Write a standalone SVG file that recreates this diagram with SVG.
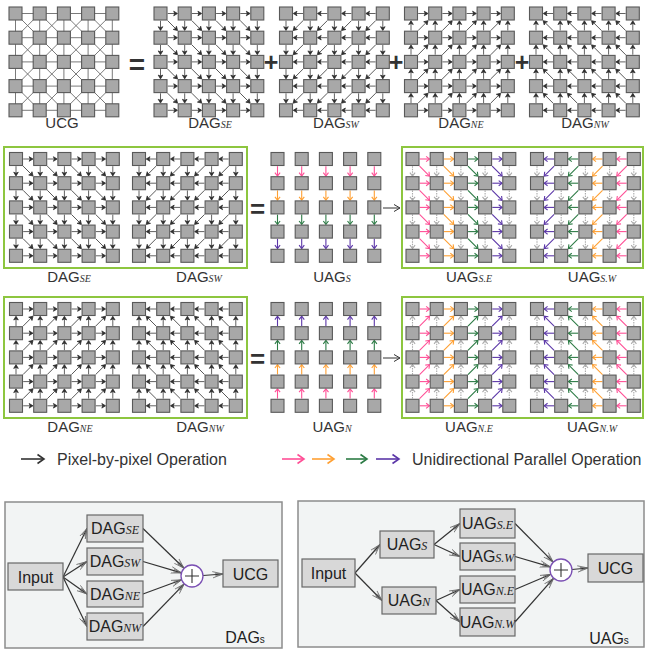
<svg xmlns="http://www.w3.org/2000/svg" width="654" height="657" viewBox="0 0 654 657">
<style>
.sq{fill:#a8a8a8;stroke:#595959;stroke-width:1.1}
.ucg{fill:none;stroke:#6b6b6b;stroke-width:0.9}
.bk{stroke:#2e2e2e;fill:#2e2e2e;stroke-width:0.75}
.cw{stroke-width:1.1;fill:none}
.gry{stroke:#ababab}
.gbox{fill:none;stroke:#8dc63f;stroke-width:2}
.lbl{font-family:"Liberation Sans",Arial,sans-serif;font-size:15px;fill:#333;text-anchor:middle}
.sub{font-family:"Liberation Serif","Times New Roman",serif;font-style:italic;font-size:10px}
.sym{font-family:"Liberation Sans",Arial,sans-serif;font-weight:bold;fill:#333;text-anchor:middle}
.frame{fill:#f2f4f4;stroke:#8c8c8c;stroke-width:1.5}
.nb{fill:#d8d8d8;stroke:#686868;stroke-width:1.2}
.nt{font-family:"Liberation Sans",Arial,sans-serif;font-size:16px;fill:#222;text-anchor:middle}
.nsub{font-family:"Liberation Serif","Times New Roman",serif;font-style:italic;font-size:12px}
.con{fill:none;stroke:#333;stroke-width:1.2;marker-end:url(#ah)}
.sum{fill:#fff;stroke:#7a4fb3;stroke-width:1.3}
.sumx{stroke:#333;stroke-width:1.1}
.leg{font-family:"Liberation Sans",Arial,sans-serif;font-size:16px;fill:#333}
.la{fill:none;stroke-width:1.6}
</style>
<defs>
<marker id="ah" markerWidth="11" markerHeight="8" viewBox="0 0 11 8" refX="10.5" refY="4" orient="auto" markerUnits="userSpaceOnUse"><path d="M0,0.8 L10.5,4 L0,7.2 M2.5,2.6 L10.5,4 L2.5,5.4" fill="none" stroke="#666" stroke-width="0.8"/></marker>
<rect id="sq" class="sq" x="-6.5" y="-6.5" width="13" height="13"/>
<g id="sqRow"><use href="#sq"/><use href="#sq" x="24.2"/><use href="#sq" x="48.4"/><use href="#sq" x="72.6"/><use href="#sq" x="96.8"/></g>
<g id="nodes"><use href="#sqRow"/><use href="#sqRow" y="24.2"/><use href="#sqRow" y="48.4"/><use href="#sqRow" y="72.6"/><use href="#sqRow" y="96.8"/></g>
<path id="ucgL" class="ucg" d="M0,0H96.8M0,24.2H96.8M0,48.4H96.8M0,72.6H96.8M0,96.8H96.8M0,0V96.8M24.2,0V96.8M48.4,0V96.8M72.6,0V96.8M96.8,0V96.8M0,0L96.8,96.8M24.2,0L96.8,72.6M48.4,0L96.8,48.4M72.6,0L96.8,24.2M0,24.2L72.6,96.8M0,48.4L48.4,96.8M0,72.6L24.2,96.8M24.2,0L0,24.2M48.4,0L0,48.4M72.6,0L0,72.6M96.8,0L0,96.8M96.8,24.2L24.2,96.8M96.8,48.4L48.4,96.8M96.8,72.6L72.6,96.8"/>
<path id="hdB" d="M0,0 L-3.8,-2.3 L-2.8,0 L-3.8,2.3 Z"/>
<polyline id="hdC" points="-3.4,-2.6 0,0 -3.4,2.6" fill="none"/>
<g id="hB"><line x1="7.2" y1="0" x2="16" y2="0"/><use href="#hdB" x="17"/></g>
<g id="vB"><use href="#hB" transform="rotate(90)"/></g>
<g id="dB"><g transform="rotate(45)"><line x1="10" y1="0" x2="23" y2="0"/><use href="#hdB" x="24.1"/></g></g>
<g id="hC" class="cw"><line x1="7.2" y1="0" x2="16.8" y2="0"/><use href="#hdC" x="17"/></g>
<g id="vC"><use href="#hC" transform="rotate(90)"/></g>
<g id="dC" class="cw"><g transform="rotate(45)"><line x1="10" y1="0" x2="23.8" y2="0"/><use href="#hdC" x="24.1"/></g></g>
<g id="vG" class="cw"><g transform="rotate(90)"><line x1="7.2" y1="0" x2="16.8" y2="0" stroke-dasharray="1.5 1"/><use href="#hdC" x="17"/></g></g>
<g id="hRowB"><use href="#hB"/><use href="#hB" x="24.2"/><use href="#hB" x="48.4"/><use href="#hB" x="72.6"/></g>
<g id="vRowB"><use href="#vB"/><use href="#vB" x="24.2"/><use href="#vB" x="48.4"/><use href="#vB" x="72.6"/><use href="#vB" x="96.8"/></g>
<g id="dRowB"><use href="#dB"/><use href="#dB" x="24.2"/><use href="#dB" x="48.4"/><use href="#dB" x="72.6"/></g>
<g id="dagSE">
<g class="bk">
<use href="#hRowB"/><use href="#hRowB" y="24.2"/><use href="#hRowB" y="48.4"/><use href="#hRowB" y="72.6"/><use href="#hRowB" y="96.8"/>
<use href="#vRowB"/><use href="#vRowB" y="24.2"/><use href="#vRowB" y="48.4"/><use href="#vRowB" y="72.6"/>
<use href="#dRowB"/><use href="#dRowB" y="24.2"/><use href="#dRowB" y="48.4"/><use href="#dRowB" y="72.6"/>
</g>
<use href="#nodes"/>
</g>
<g id="hRowC"><use href="#hC" stroke="#ff4f96"/><use href="#hC" x="24.2" stroke="#ffa033"/><use href="#hC" x="48.4" stroke="#2c7b45"/><use href="#hC" x="72.6" stroke="#5b36a8"/></g>
<g id="dRowC"><use href="#dC" stroke="#ff4f96"/><use href="#dC" x="24.2" stroke="#ffa033"/><use href="#dC" x="48.4" stroke="#2c7b45"/><use href="#dC" x="72.6" stroke="#5b36a8"/></g>
<g id="vRowG"><use href="#vG"/><use href="#vG" x="24.2"/><use href="#vG" x="48.4"/><use href="#vG" x="72.6"/><use href="#vG" x="96.8"/></g>
<g id="vRowC"><use href="#vC"/><use href="#vC" x="24.2"/><use href="#vC" x="48.4"/><use href="#vC" x="72.6"/><use href="#vC" x="96.8"/></g>
<g id="uagSE">
<g class="gry"><use href="#vRowG"/><use href="#vRowG" y="24.2"/><use href="#vRowG" y="48.4"/><use href="#vRowG" y="72.6"/></g>
<use href="#hRowC"/><use href="#hRowC" y="24.2"/><use href="#hRowC" y="48.4"/><use href="#hRowC" y="72.6"/><use href="#hRowC" y="96.8"/>
<use href="#dRowC"/><use href="#dRowC" y="24.2"/><use href="#dRowC" y="48.4"/><use href="#dRowC" y="72.6"/>
<use href="#nodes"/>
</g>
<g id="uagS">
<use href="#vRowC" stroke="#ff4f96"/><use href="#vRowC" y="24.2" stroke="#ffa033"/><use href="#vRowC" y="48.4" stroke="#2c7b45"/><use href="#vRowC" y="72.6" stroke="#5b36a8"/>
<use href="#nodes"/>
</g>
</defs>

<g id="row1">
<g id="grid-ucg" transform="translate(15.5,13.5)"><use href="#ucgL"/><use href="#nodes"/></g>
<g id="grid-dag-se-1" transform="translate(160.5,13.5)"><use href="#dagSE"/></g>
<g id="grid-dag-sw-1" transform="translate(382.8,13.5) scale(-1,1)"><use href="#dagSE"/></g>
<g id="grid-dag-ne-1" transform="translate(411,110.3) scale(1,-1)"><use href="#dagSE"/></g>
<g id="grid-dag-nw-1" transform="translate(632.8,110.3) scale(-1,-1)"><use href="#dagSE"/></g>
<text class="sym" x="137" y="73.5" font-size="28">=</text>
<text class="sym" x="271" y="70.5" font-size="25">+</text>
<text class="sym" x="396" y="70.5" font-size="25">+</text>
<text class="sym" x="522" y="70.5" font-size="25">+</text>
<text class="lbl" x="62" y="128">UCG</text>
<text class="lbl" x="210" y="128">DAG<tspan class="sub">SE</tspan></text>
<text class="lbl" x="336" y="128">DAG<tspan class="sub">SW</tspan></text>
<text class="lbl" x="461" y="128">DAG<tspan class="sub">NE</tspan></text>
<text class="lbl" x="585" y="128">DAG<tspan class="sub">NW</tspan></text>
</g>

<g id="row2">
<rect class="gbox" x="4" y="147" width="243" height="121"/>
<rect class="gbox" x="402" y="147" width="241" height="121"/>
<g id="grid-dag-se-2" transform="translate(16,159)"><use href="#dagSE"/></g>
<g id="grid-dag-sw-2" transform="translate(235.8,159) scale(-1,1)"><use href="#dagSE"/></g>
<g id="grid-uag-s" transform="translate(277.5,159)"><use href="#uagS"/></g>
<g id="grid-uag-se" transform="translate(412.5,159)"><use href="#uagSE"/></g>
<g id="grid-uag-sw" transform="translate(633.8,159) scale(-1,1)"><use href="#uagSE"/></g>
<text class="sym" x="257.5" y="218" font-size="26">=</text>
<text class="lbl" x="69" y="282">DAG<tspan class="sub">SE</tspan></text>
<text class="lbl" x="199" y="282">DAG<tspan class="sub">SW</tspan></text>
<text class="lbl" x="332" y="282">UAG<tspan class="sub">S</tspan></text>
<text class="lbl" x="469" y="282">UAG<tspan class="sub">S.E</tspan></text>
<text class="lbl" x="592" y="282">UAG<tspan class="sub">S.W</tspan></text>
</g>

<g id="row3">
<rect class="gbox" x="4" y="297" width="243" height="121"/>
<rect class="gbox" x="402" y="297" width="241" height="121"/>
<g id="grid-dag-ne-2" transform="translate(16,405.8) scale(1,-1)"><use href="#dagSE"/></g>
<g id="grid-dag-nw-2" transform="translate(235.8,405.8) scale(-1,-1)"><use href="#dagSE"/></g>
<g id="grid-uag-n" transform="translate(277.5,405.8) scale(1,-1)"><use href="#uagS"/></g>
<g id="grid-uag-ne" transform="translate(412.5,405.8) scale(1,-1)"><use href="#uagSE"/></g>
<g id="grid-uag-nw" transform="translate(633.8,405.8) scale(-1,-1)"><use href="#uagSE"/></g>
<text class="sym" x="257.5" y="368" font-size="26">=</text>
<text class="lbl" x="70" y="432">DAG<tspan class="sub">NE</tspan></text>
<text class="lbl" x="200" y="432">DAG<tspan class="sub">NW</tspan></text>
<text class="lbl" x="332" y="432">UAG<tspan class="sub">N</tspan></text>
<text class="lbl" x="469" y="432">UAG<tspan class="sub">N.E</tspan></text>
<text class="lbl" x="592" y="432">UAG<tspan class="sub">N.W</tspan></text>
</g>

<g id="legend">
<g class="la" stroke="#333"><line x1="21" y1="459" x2="43.5" y2="459"/><polyline points="37.5,454.5 44,459 37.5,463.5"/></g>
<text class="leg" x="57" y="464.5">Pixel-by-pixel Operation</text>
<g class="la" stroke="#ff4f96"><line x1="282" y1="459" x2="303.5" y2="459"/><polyline points="297.5,454.5 304,459 297.5,463.5"/></g>
<g class="la" stroke="#ffa033"><line x1="312" y1="459" x2="333.5" y2="459"/><polyline points="327.5,454.5 334,459 327.5,463.5"/></g>
<g class="la" stroke="#2c7b45"><line x1="346" y1="459" x2="366.5" y2="459"/><polyline points="360.5,454.5 367,459 360.5,463.5"/></g>
<g class="la" stroke="#5b36a8"><line x1="376" y1="459" x2="398.5" y2="459"/><polyline points="392.5,454.5 399,459 392.5,463.5"/></g>
<text class="leg" x="412" y="464.5">Unidirectional Parallel Operation</text>
</g>

<rect id="frame-dags" class="frame" x="5" y="502" width="277" height="146"/>
<rect id="frame-uags" class="frame" x="298" y="501" width="346" height="146"/>

<g id="connectors">
<g fill="none" stroke="#333" stroke-width="1"><line x1="383" y1="208" x2="399.5" y2="208"/><polyline points="394,204.5 400,208 394,211.5"/><line x1="383" y1="358" x2="399.5" y2="358"/><polyline points="394,354.5 400,358 394,361.5"/></g>
<path class="con" d="M63,577 L87,528.5"/>
<path class="con" d="M63,577 L87,561.5"/>
<path class="con" d="M63,577 L87,594"/>
<path class="con" d="M63,577 L87,626.5"/>
<path class="con" d="M143,528.5 L184.1,568.3"/>
<path class="con" d="M143,561.5 L181.5,572.9"/>
<path class="con" d="M143,594 L181.7,579.8"/>
<path class="con" d="M143,626.5 L184.3,583.9"/>
<path class="con" d="M203,575.5 L223,574"/>
<path class="con" d="M355,573 L380,544.5"/>
<path class="con" d="M355,573 L382,600.5"/>
<path class="con" d="M434,544.5 L460,523.5"/>
<path class="con" d="M434,544.5 L460,556.5"/>
<path class="con" d="M436,600.5 L460,589.5"/>
<path class="con" d="M436,600.5 L460,622"/>
<path class="con" d="M515,523.5 L553.3,562.2"/>
<path class="con" d="M515,556.5 L550.4,566.9"/>
<path class="con" d="M515,589.5 L550.9,574.3"/>
<path class="con" d="M515,622 L553.7,578.2"/>
<path class="con" d="M572,569.5 L588,568"/>
</g>

<g id="n-input-1"><rect class="nb" x="8" y="563" width="55" height="27"/><text class="nt" x="35.5" y="582.5" font-size="17">Input</text></g>
<g id="n-dag-se"><rect class="nb" x="87" y="515" width="56" height="27"/><text class="nt" x="115" y="534">DAG<tspan class="nsub">SE</tspan></text></g>
<g id="n-dag-sw"><rect class="nb" x="87" y="548" width="56" height="27"/><text class="nt" x="115" y="567">DAG<tspan class="nsub">SW</tspan></text></g>
<g id="n-dag-ne"><rect class="nb" x="87" y="581" width="56" height="26"/><text class="nt" x="115" y="599.5">DAG<tspan class="nsub">NE</tspan></text></g>
<g id="n-dag-nw"><rect class="nb" x="87" y="613" width="56" height="27"/><text class="nt" x="115" y="632">DAG<tspan class="nsub">NW</tspan></text></g>
<g id="n-sum-1"><circle class="sum" cx="192" cy="576" r="11"/><path class="sumx" d="M185,576H199M192,569V583"/></g>
<g id="n-ucg-1"><rect class="nb" x="223" y="560" width="55" height="27"/><text class="nt" x="250.5" y="579.5">UCG</text></g>
<text class="nt" x="245" y="643" font-size="14">DAG<tspan font-size="10">s</tspan></text>

<g id="n-input-2"><rect class="nb" x="302" y="559" width="53" height="28"/><text class="nt" x="328.5" y="579" font-size="17">Input</text></g>
<g id="n-uag-s"><rect class="nb" x="380" y="531" width="54" height="27"/><text class="nt" x="407" y="550">UAG<tspan class="nsub">S</tspan></text></g>
<g id="n-uag-n"><rect class="nb" x="382" y="587" width="54" height="27"/><text class="nt" x="409" y="606">UAG<tspan class="nsub">N</tspan></text></g>
<g id="n-uag-se"><rect class="nb" x="460" y="509" width="55" height="29"/><text class="nt" x="487.5" y="529">UAG<tspan class="nsub">S.E</tspan></text></g>
<g id="n-uag-sw"><rect class="nb" x="460" y="543" width="55" height="27"/><text class="nt" x="487.5" y="562">UAG<tspan class="nsub">S.W</tspan></text></g>
<g id="n-uag-ne"><rect class="nb" x="460" y="576" width="55" height="27"/><text class="nt" x="487.5" y="595">UAG<tspan class="nsub">N.E</tspan></text></g>
<g id="n-uag-nw"><rect class="nb" x="460" y="608" width="55" height="28"/><text class="nt" x="487.5" y="627.5">UAG<tspan class="nsub">N.W</tspan></text></g>
<g id="n-sum-2"><circle class="sum" cx="561" cy="570" r="11"/><path class="sumx" d="M554,570H568M561,563V577"/></g>
<g id="n-ucg-2"><rect class="nb" x="588" y="554" width="55" height="28"/><text class="nt" x="615.5" y="573.5">UCG</text></g>
<text class="nt" x="609" y="644" font-size="14">UAG<tspan font-size="10">s</tspan></text>
</svg>
